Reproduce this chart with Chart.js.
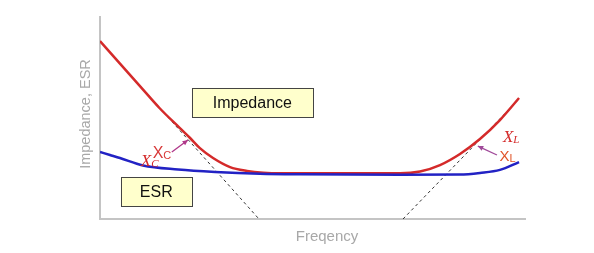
<!DOCTYPE html>
<html>
<head>
<meta charset="utf-8">
<script src="https://cdn.jsdelivr.net/npm/chart.js@4.4.1/dist/chart.umd.min.js"></script>
<style>
html,body{margin:0;padding:0;background:#fff;}
#wrap{width:594px;height:253px;position:relative;}
</style>
</head>
<body>
<div id="wrap"><canvas id="c" width="594" height="253"></canvas></div>
<script>
// ---- data (frequency axis 0..100, impedance axis 0..100, arbitrary units) ----
const freqImpedance = [0, 4.7, 9.4, 14.1, 18.8, 21.2, 23.5, 26.6, 30.6, 34.6, 38.4, 42.4, 56.5, 70.6, 75.3, 80.0, 84.7, 89.4, 94.1, 98.6];
const impedance     = [88.1, 76.9, 65.8, 54.7, 45.0, 40.1, 35.1, 30.2, 25.7, 23.8, 22.9, 22.6, 22.6, 22.6, 23.5, 26.7, 32.2, 39.6, 49.0, 59.9];
const freqESR = [0, 2.35, 4.7, 10.1, 18.4, 27.1, 37.6, 47.1, 70.6, 84.7, 89.4, 94.1, 98.6];
const esr     = [33.2, 31.7, 30.2, 26.5, 24.5, 23.3, 22.4, 22.1, 21.9, 22.0, 22.8, 24.3, 28.2];
const freqXcAsym = [0, 37.4];
const xcAsym     = [88.1, 0];
const freqXlAsym = [71.3, 98.6];
const xlAsym     = [0, 59.4];
const xTitle = 'Freqency';
const yTitle = 'Impedance, ESR';

const pts = (xs, ys) => xs.map((x, i) => ({x: x, y: ys[i]}));

// annotation placement in data units
const notes = {
  impBox: {x0: 21.6, x1: 50.1, y0: 64.9, y1: 50.5, text: 'Impedance'},
  esrBox: {x0: 4.9, x1: 21.6, y0: 20.8, y1: 6.4, text: 'ESR'}
};

const annot = {
  id: 'annot',
  afterDatasetsDraw(chart) {
    const ctx = chart.ctx;
    const sx = chart.scales.x, sy = chart.scales.y;
    const X = v => sx.getPixelForValue(v), Y = v => sy.getPixelForValue(v);
    ctx.save();
    [notes.impBox, notes.esrBox].forEach(b => {
      const l = X(b.x0), r = X(b.x1), t = Y(b.y0), bt = Y(b.y1);
      ctx.fillStyle = '#ffffcc';
      ctx.fillRect(l, t, r - l, bt - t);
      ctx.strokeStyle = '#444';
      ctx.lineWidth = 1;
      ctx.strokeRect(Math.round(l) + 0.5, Math.round(t) + 0.5, Math.round(r - l), Math.round(bt - t));
      ctx.fillStyle = '#111';
      ctx.font = '16px "Liberation Sans", Arial, sans-serif';
      ctx.textAlign = 'center';
      ctx.textBaseline = 'middle';
      ctx.fillText(b.text, (l + r) / 2, (t + bt) / 2 + 1);
    });
    const arrow = (x0, y0, x1, y1, col) => {
      const ax = X(x0), ay = Y(y0), bx = X(x1), by = Y(y1);
      ctx.strokeStyle = col; ctx.fillStyle = col; ctx.lineWidth = 1.3;
      ctx.beginPath(); ctx.moveTo(ax, ay); ctx.lineTo(bx, by); ctx.stroke();
      const ang = Math.atan2(by - ay, bx - ax), h = 6;
      ctx.beginPath();
      ctx.moveTo(bx, by);
      ctx.lineTo(bx - h * Math.cos(ang - 0.45), by - h * Math.sin(ang - 0.45));
      ctx.lineTo(bx - h * Math.cos(ang + 0.45), by - h * Math.sin(ang + 0.45));
      ctx.closePath(); ctx.fill();
    };
    const sub = (main, s, x, y, fMain, fSub, col) => {
      ctx.fillStyle = col;
      ctx.textAlign = 'left';
      ctx.textBaseline = 'alphabetic';
      ctx.font = fMain;
      ctx.fillText(main, X(x), Y(y));
      const w = ctx.measureText(main).width;
      ctx.font = fSub;
      ctx.fillText(s, X(x) + w, Y(y) + 1);
    };
    sub('X', 'C', 9.6, 26.4, 'italic 17px "Liberation Serif", serif', 'italic 11px "Liberation Serif", serif', '#d42a2a');
    sub('X', 'L', 94.8, 38.1, 'italic 17px "Liberation Serif", serif', 'italic 11px "Liberation Serif", serif', '#d42a2a');
    sub('X', 'C', 12.4, 30.2, '16px "Liberation Sans", sans-serif', '11px "Liberation Sans", sans-serif', '#d83a3a');
    arrow(16.9, 33.2, 20.7, 39.1, '#b0388a');
    sub('X', 'L', 94.0, 28.7, '15px "Liberation Sans", sans-serif', '11px "Liberation Sans", sans-serif', '#e0552a');
    arrow(93.4, 31.7, 88.9, 36.1, '#a04a9a');
    ctx.fillStyle = '#a8a8a8';
    ctx.font = '15px "Liberation Sans", sans-serif';
    ctx.textAlign = 'center';
    ctx.textBaseline = 'middle';
    ctx.fillText(xTitle, 327, 237);
    ctx.translate(86, 114);
    ctx.rotate(-Math.PI / 2);
    ctx.font = '14.5px "Liberation Sans", sans-serif';
    ctx.fillText(yTitle, 0, 0);
    ctx.restore();
  }
};

new Chart(document.getElementById('c'), {
  type: 'line',
  data: {
    datasets: [
      {label: 'ESR', data: pts(freqESR, esr), borderColor: '#2222c4', borderWidth: 2.5, pointRadius: 0, cubicInterpolationMode: 'monotone', fill: false},
      {label: 'Impedance', data: pts(freqImpedance, impedance), borderColor: '#d42a2a', borderWidth: 2.5, pointRadius: 0, cubicInterpolationMode: 'monotone', fill: false},
      {label: 'Xc', data: pts(freqXcAsym, xcAsym), borderColor: '#333', borderWidth: 1, borderDash: [3, 3], pointRadius: 0, fill: false},
      {label: 'XL', data: pts(freqXlAsym, xlAsym), borderColor: '#333', borderWidth: 1, borderDash: [3, 3], pointRadius: 0, fill: false}
    ]
  },
  options: {
    responsive: false,
    animation: false,
    events: [],
    layout: {padding: {left: 92, top: 17, right: 69, bottom: 26}},
    plugins: {legend: {display: false}, tooltip: {enabled: false}},
    scales: {
      x: {type: 'linear', min: 0, max: 100, ticks: {display: false}, grid: {display: false}, border: {display: true, color: '#c4c4c4', width: 2}, title: {display: false}},
      y: {type: 'linear', min: 0, max: 100, ticks: {display: false}, grid: {display: false}, border: {display: true, color: '#c4c4c4', width: 2}, title: {display: false}}
    }
  },
  plugins: [annot]
});
</script>
</body>
</html>
